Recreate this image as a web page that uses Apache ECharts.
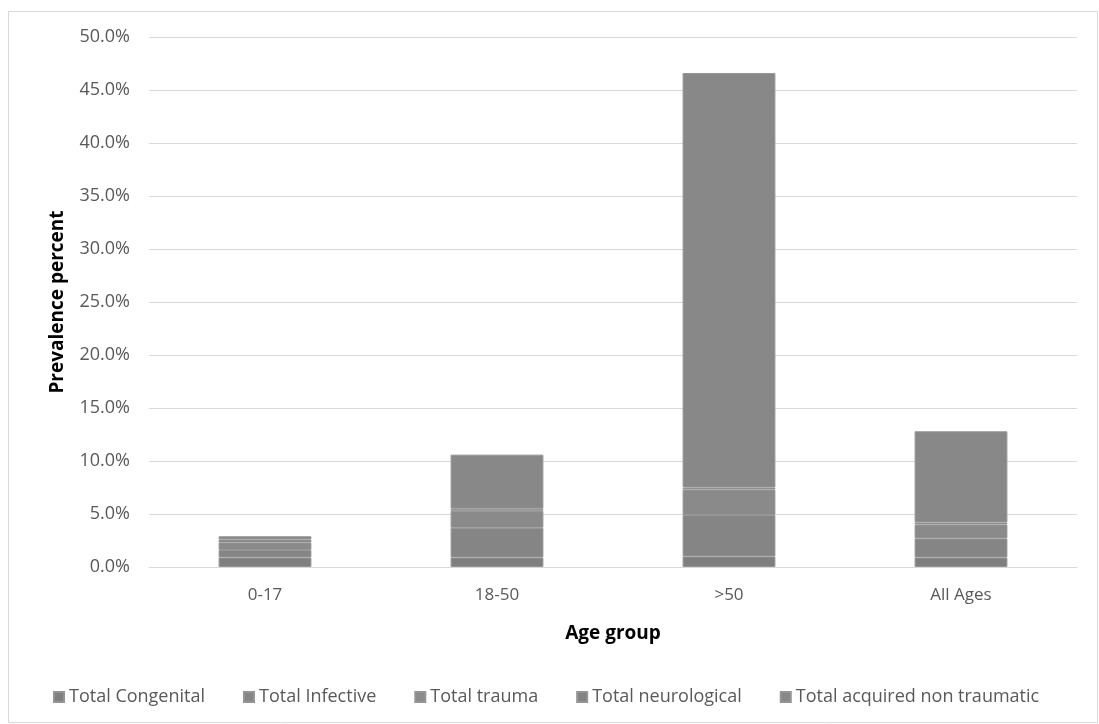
<!DOCTYPE html>
<html>
<head>
<meta charset="utf-8">
<script src="https://cdn.jsdelivr.net/npm/echarts@6/dist/echarts.min.js"></script>
<style>html,body{margin:0;padding:0;background:#fff;}#c{width:1099px;height:724px;}</style>
</head>
<body>
<div id="c"></div>
<script>
var categories = ['0-17', '18-50', '>50', 'All Ages'];
var seriesNames = ['Total Congenital', 'Total Infective', 'Total trauma', 'Total neurological', 'Total acquired non traumatic'];
var congenital = [0.9, 0.9, 1.0, 0.9];
var infective = [0.7, 2.8, 3.9, 1.8];
var trauma = [0.7, 1.6, 2.4, 1.3];
var neurological = [0.3, 0.2, 0.2, 0.2];
var acquired = [0.3, 5.1, 39.1, 8.6];
var seriesColors = ['#7f7f7f', '#858585', '#8a8a8a', '#838383', '#888888'];

var dataSets = [congenital, infective, trauma, neurological, acquired];
var font = '"Open Sans", "Noto Sans", sans-serif';
var chart = echarts.init(document.getElementById('c'));
chart.setOption({
  animation: false,
  graphic: [{
    type: 'rect', shape: {x: 8.5, y: 11.5, width: 1089, height: 711},
    style: {fill: 'none', stroke: '#d9d9d9', lineWidth: 1}, silent: true
  }],
  grid: {left: 149, right: 22, top: 37, bottom: 157},
  legend: {
    top: 683, left: 48, itemWidth: 10, itemHeight: 10, itemGap: 38, itemTextGap: 4,
    icon: 'rect',
    textStyle: {color: '#595959', fontSize: 18, fontFamily: font},
    data: seriesNames
  },
  xAxis: {
    type: 'category', data: categories,
    name: 'Age group', nameLocation: 'middle', nameGap: 57,
    nameTextStyle: {fontWeight: 'bold', fontSize: 19, color: '#000', fontFamily: font},
    axisLine: {lineStyle: {color: '#d9d9d9', width: 1}},
    axisTick: {show: false},
    axisLabel: {color: '#595959', fontSize: 17, margin: 20, fontFamily: font}
  },
  yAxis: {
    type: 'value', min: 0, max: 50, interval: 5,
    name: 'Prevalence percent', nameLocation: 'middle', nameGap: 82,
    nameTextStyle: {fontWeight: 'bold', fontSize: 19, color: '#000', fontFamily: font},
    axisLine: {show: false}, axisTick: {show: false},
    splitLine: {lineStyle: {color: '#d9d9d9', width: 1}},
    axisLabel: {color: '#595959', fontSize: 18, margin: 19, fontFamily: font,
      formatter: function (v) { return v.toFixed(1) + '%'; }}
  },
  series: seriesNames.map(function (n, i) {
    return {
      name: n, type: 'bar', stack: 'total', barCategoryGap: '60%',
      data: dataSets[i],
      itemStyle: {color: seriesColors[i], borderColor: '#959595', borderWidth: 1}
    };
  })
});
</script>
</body>
</html>
